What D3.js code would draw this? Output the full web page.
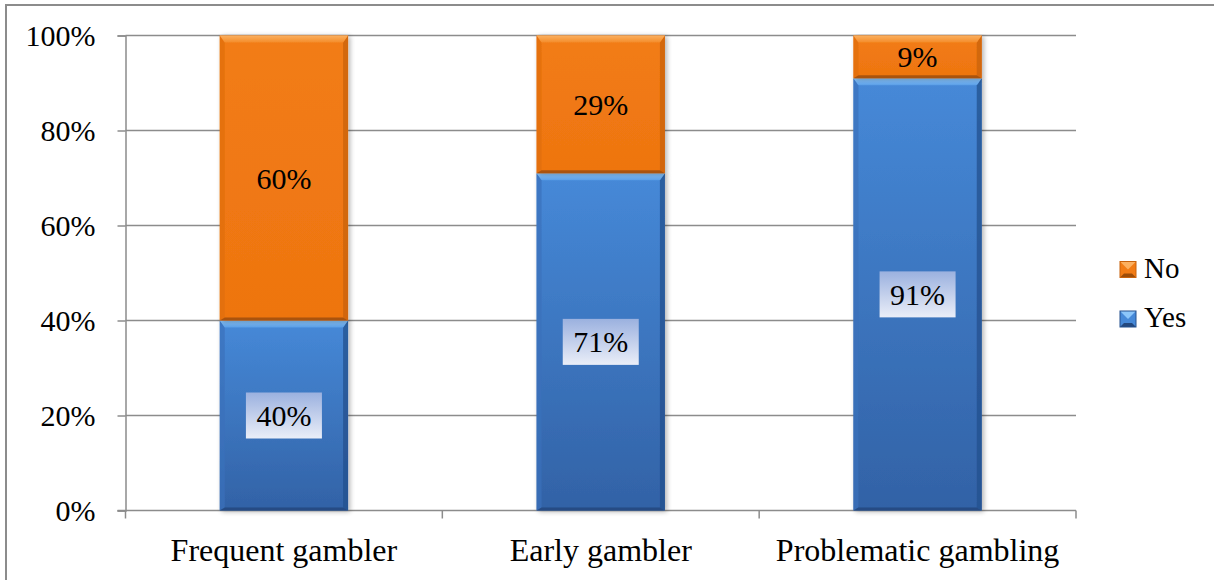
<!DOCTYPE html>
<html>
<head>
<meta charset="utf-8">
<script src="https://cdn.jsdelivr.net/npm/d3@7/dist/d3.min.js"></script>
<style>
  html, body { margin: 0; padding: 0; background: #fff; }
  svg { display: block; }
</style>
</head>
<body>
<svg id="chart" width="1214" height="580"></svg>
<script>
// Share of respondents per group, split by answer
const categories = ["Frequent gambler", "Early gambler", "Problematic gambling"];
const yesValues = [40, 71, 91];
const noValues = [60, 29, 9];
const seriesNames = ["Yes", "No"];
const yTicks = [0, 20, 40, 60, 80, 100];

const FONT = "Liberation Serif";
const svg = d3.select("#chart");
const W = 1214, H = 580;
const plot = { left: 125.5, right: 1076, top: 35.5, bottom: 510.5 };

// Outer frame of the chart area
svg.append("rect")
  .attr("x", 6).attr("y", 5)
  .attr("width", W + 10).attr("height", H + 10)
  .attr("fill", "#fff").attr("stroke", "#8c8c8c").attr("stroke-width", 2);

const x = d3.scaleBand().domain(categories).range([plot.left, plot.right]).padding(0);
const y = d3.scaleLinear().domain([0, 100]).range([plot.bottom, plot.top]);
const barW = x.bandwidth() * 0.405;

const defs = svg.append("defs");

// Colour palettes for the bevelled bars
const palettes = {
  Yes: { body: ["#4689d8", "#3262a6"], top: ["#8cc6fa", "#5a9ee6"], left: "#3a70bb", right: "#24508e", bottom: "#23487e" },
  No:  { body: ["#f27c15", "#ee7510"], top: ["#fbb060", "#f48c2a"], left: "#e06e10", right: "#c8620c", bottom: "#9e4d08" }
};
Object.entries(palettes).forEach(([k, p]) => {
  const g = defs.append("linearGradient").attr("id", "body-" + k)
    .attr("x1", 0).attr("y1", 0).attr("x2", 0).attr("y2", 1);
  g.append("stop").attr("offset", "0%").attr("stop-color", p.body[0]);
  g.append("stop").attr("offset", "100%").attr("stop-color", p.body[1]);
  const t = defs.append("linearGradient").attr("id", "top-" + k)
    .attr("x1", 0).attr("y1", 0).attr("x2", 0).attr("y2", 1);
  t.append("stop").attr("offset", "0%").attr("stop-color", p.top[0]);
  t.append("stop").attr("offset", "100%").attr("stop-color", p.top[1]);
});
const lg = defs.append("linearGradient").attr("id", "labelBg")
  .attr("x1", 0).attr("y1", 0).attr("x2", 0).attr("y2", 1);
lg.append("stop").attr("offset", "0%").attr("stop-color", "#9bb1df");
lg.append("stop").attr("offset", "100%").attr("stop-color", "#eaeef8");

const shadow = defs.append("filter").attr("id", "barShadow")
  .attr("x", "-10%").attr("y", "-5%").attr("width", "125%").attr("height", "115%");
shadow.append("feGaussianBlur").attr("in", "SourceAlpha").attr("stdDeviation", 2.5).attr("result", "b");
shadow.append("feOffset").attr("in", "b").attr("dx", 2).attr("dy", 1).attr("result", "o");
shadow.append("feComponentTransfer").attr("in", "o").attr("result", "s")
  .append("feFuncA").attr("type", "linear").attr("slope", 0.3);
const fm = shadow.append("feMerge");
fm.append("feMergeNode").attr("in", "s");
fm.append("feMergeNode").attr("in", "SourceGraphic");

// Gridlines
svg.append("g").selectAll("line").data(yTicks.filter(t => t > 0)).join("line")
  .attr("x1", plot.left).attr("x2", plot.right)
  .attr("y1", d => y(d)).attr("y2", d => y(d))
  .attr("stroke", "#8c8c8c").attr("stroke-width", 1.4);

// Y axis
const yAxis = d3.axisLeft(y).tickValues(yTicks).tickFormat(d => d + "%").tickSize(8).tickPadding(22);
const gy = svg.append("g").attr("transform", `translate(${plot.left},0)`).call(yAxis);
gy.select(".domain").attr("stroke", "#8c8c8c").attr("stroke-width", 1.5);
gy.selectAll(".tick line").attr("stroke", "#8c8c8c").attr("stroke-width", 1.5);
gy.selectAll(".tick text").style("font-family", FONT).style("font-size", "30px").attr("fill", "#000");

// X axis with ticks on category boundaries
const gx = svg.append("g").attr("transform", `translate(0,${plot.bottom})`);
gx.append("line").attr("x1", plot.left - 8).attr("x2", plot.right)
  .attr("stroke", "#8c8c8c").attr("stroke-width", 1.5);
const bounds = categories.map(c => x(c)).concat([x(categories[categories.length - 1]) + x.step()]);
gx.selectAll("line.tk").data(bounds).join("line").attr("class", "tk")
  .attr("x1", d => d).attr("x2", d => d).attr("y1", 0).attr("y2", 8)
  .attr("stroke", "#8c8c8c").attr("stroke-width", 1.5);
gx.selectAll("text").data(categories).join("text")
  .attr("x", d => x(d) + x.bandwidth() / 2).attr("y", 50.5)
  .attr("text-anchor", "middle")
  .style("font-family", FONT).style("font-size", "32px").attr("fill", "#000")
  .text(d => d);

// Stacked segments
const rows = categories.map((c, i) => ({ cat: c, Yes: yesValues[i], No: noValues[i] }));
const stack = d3.stack().keys(seriesNames)(rows);

function bevelBar(g, x0, y0, w, h, p, key) {
  const b = Math.min(7, h / 3);
  const sb = 5;
  g.append("rect").attr("x", x0).attr("y", y0).attr("width", w).attr("height", h)
    .attr("fill", `url(#body-${key})`);
  // side bevels
  g.append("path").attr("d", `M${x0},${y0}L${x0 + sb},${y0 + b}L${x0 + sb},${y0 + h - 3}L${x0},${y0 + h}Z`)
    .attr("fill", p.left).attr("opacity", 0.7);
  g.append("path").attr("d", `M${x0 + w},${y0}L${x0 + w - sb},${y0 + b}L${x0 + w - sb},${y0 + h - 3}L${x0 + w},${y0 + h}Z`)
    .attr("fill", p.right).attr("opacity", 0.75);
  // top bevel
  g.append("path").attr("d", `M${x0},${y0}L${x0 + w},${y0}L${x0 + w - sb},${y0 + b}L${x0 + sb},${y0 + b}Z`)
    .attr("fill", `url(#top-${key})`);
  // bottom edge
  g.append("path").attr("d", `M${x0},${y0 + h}L${x0 + w},${y0 + h}L${x0 + w - sb},${y0 + h - 3}L${x0 + sb},${y0 + h - 3}Z`)
    .attr("fill", p.bottom).attr("opacity", 0.85);
}

const barsG = svg.append("g");
stack.forEach(layer => {
  const key = layer.key;
  layer.forEach(d => {
    const cx = x(d.data.cat) + x.bandwidth() / 2;
    const x0 = cx - barW / 2;
    const yTop = y(d[1]), yBot = y(d[0]);
    const g = barsG.append("g").attr("filter", "url(#barShadow)");
    bevelBar(g, x0, yTop, barW, yBot - yTop, palettes[key], key);
  });
});

// Value labels
const labelsG = svg.append("g");
stack.forEach(layer => {
  const key = layer.key;
  layer.forEach(d => {
    const cx = x(d.data.cat) + x.bandwidth() / 2;
    const cy = (y(d[0]) + y(d[1])) / 2;
    const val = d[1] - d[0];
    if (key === "Yes") {
      labelsG.append("rect").attr("x", cx - 38).attr("y", cy - 23)
        .attr("width", 76).attr("height", 46).attr("fill", "url(#labelBg)");
    }
    labelsG.append("text").attr("x", cx).attr("y", cy).attr("dy", "0.35em")
      .attr("text-anchor", "middle")
      .style("font-family", FONT).style("font-size", "30px").attr("fill", "#000")
      .text(val + "%");
  });
});

// Legend
const legendItems = ["No", "Yes"];
const lgG = svg.append("g");
legendItems.forEach((k, i) => {
  const base = 277.5 + i * 49.5;
  const p = palettes[k];
  const s = 16, x0 = 1120, y0 = base - s, b = 4;
  lgG.append("rect").attr("x", x0).attr("y", y0).attr("width", s).attr("height", s).attr("fill", p.body[0]);
  lgG.append("path").attr("d", `M${x0},${y0}L${x0 + s},${y0}L${x0 + s / 2},${y0 + s / 2}Z`).attr("fill", p.top[0]);
  lgG.append("path").attr("d", `M${x0},${y0 + s}L${x0 + s},${y0 + s}L${x0 + s - b},${y0 + s - b}L${x0 + b},${y0 + s - b}Z`).attr("fill", p.bottom);
  lgG.append("rect").attr("x", x0).attr("y", y0).attr("width", s).attr("height", s)
    .attr("fill", "none").attr("stroke", p.right).attr("stroke-width", 1);
  lgG.append("text").attr("x", 1144).attr("y", base)
    .style("font-family", FONT).style("font-size", "29px").attr("fill", "#000")
    .text(k);
});
</script>
</body>
</html>
